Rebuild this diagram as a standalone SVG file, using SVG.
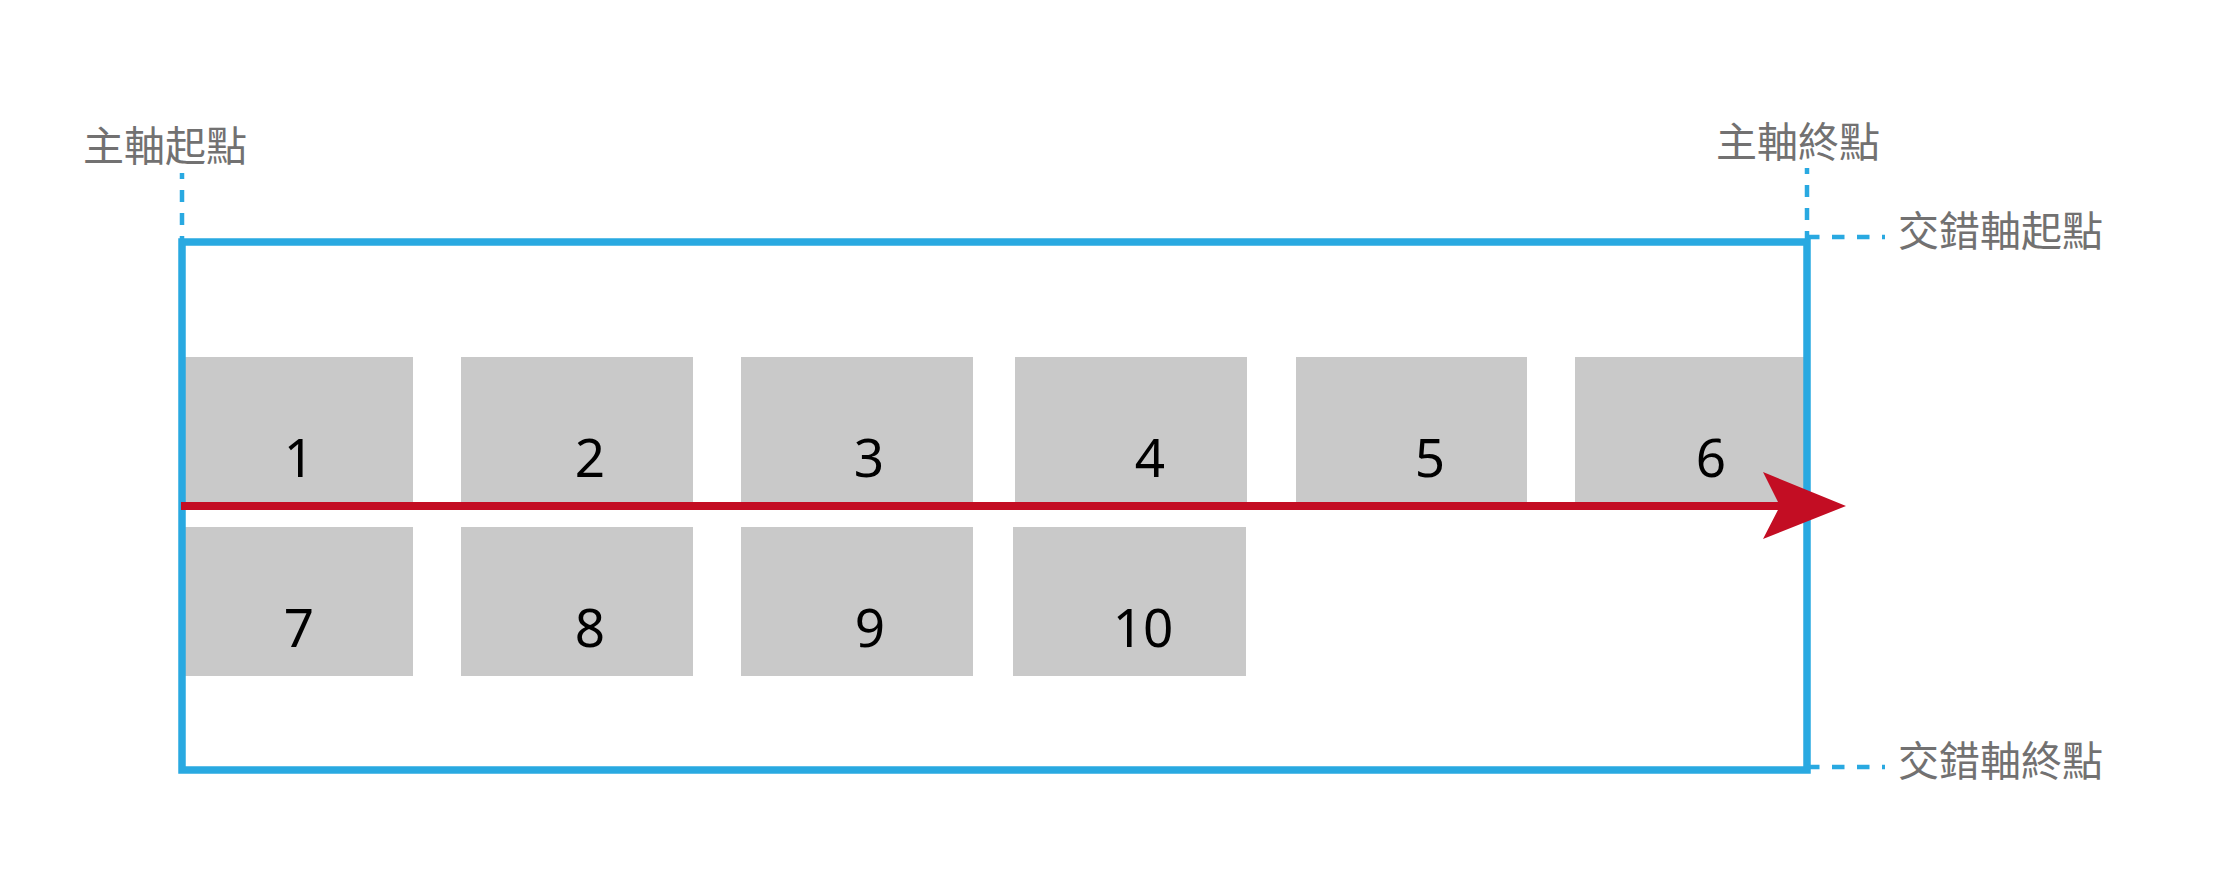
<svg xmlns="http://www.w3.org/2000/svg" width="2230" height="880" viewBox="0 0 2230 880">
<style>
.item{fill:#c9c9c9;}
.num{font-family:"Noto Sans","Liberation Sans",sans-serif;font-size:53px;fill:#000;text-anchor:middle;}
.lbl{font-family:"Noto Sans CJK TC","Noto Sans CJK SC",sans-serif;font-size:41px;fill:#727171;}
.box{fill:none;stroke:#29a9e1;stroke-width:7.5;}
.dashv{fill:none;stroke:#29a9e1;stroke-width:4.5;stroke-dasharray:12 11;stroke-dashoffset:6;}
.dashh{fill:none;stroke:#29a9e1;stroke-width:4.5;stroke-dasharray:12.5 12.5;}
.axis{fill:none;stroke:#c30d23;stroke-width:8;}
</style>
<rect width="2230" height="880" fill="#fff"/>
<g id="item-1"><rect class="item" x="183" y="357" width="230" height="149"/><text class="num" x="299" y="477">1</text></g>
<g id="item-2"><rect class="item" x="461" y="357" width="232" height="149"/><text class="num" x="590" y="477">2</text></g>
<g id="item-3"><rect class="item" x="741" y="357" width="232" height="149"/><text class="num" x="869" y="477">3</text></g>
<g id="item-4"><rect class="item" x="1015" y="357" width="232" height="149"/><text class="num" x="1150" y="477">4</text></g>
<g id="item-5"><rect class="item" x="1296" y="357" width="231" height="149"/><text class="num" x="1430" y="477">5</text></g>
<g id="item-6"><rect class="item" x="1575" y="357" width="232" height="149"/><text class="num" x="1711" y="477">6</text></g>
<g id="item-7"><rect class="item" x="183" y="527" width="230" height="149"/><text class="num" x="299" y="647">7</text></g>
<g id="item-8"><rect class="item" x="461" y="527" width="232" height="149"/><text class="num" x="590" y="647">8</text></g>
<g id="item-9"><rect class="item" x="741" y="527" width="232" height="149"/><text class="num" x="870" y="647">9</text></g>
<g id="item-10"><rect class="item" x="1013" y="527" width="233" height="149"/><text class="num" x="1143" y="647">10</text></g>
<g id="container"><rect class="box" x="182" y="242" width="1625" height="528"/></g>
<g id="label-main-start"><text class="lbl" x="83" y="161">主軸起點</text></g>
<g id="label-main-end"><text class="lbl" x="1716" y="157">主軸終點</text></g>
<g id="label-cross-start"><text class="lbl" x="1898" y="246">交錯軸起點</text></g>
<g id="label-cross-end"><text class="lbl" x="1898" y="776">交錯軸終點</text></g>
<g id="connectors">
<path class="dashv" d="M182,173V240"/>
<path class="dashv" d="M1807,168V240"/>
<path class="dashh" d="M1807,237H1885"/>
<path class="dashh" d="M1807,767H1885"/>
<path class="axis" d="M181,506H1782"/>
<polygon fill="#c30d23" points="1846,506 1763,472 1780,506 1763,539"/>
</g>
</svg>
